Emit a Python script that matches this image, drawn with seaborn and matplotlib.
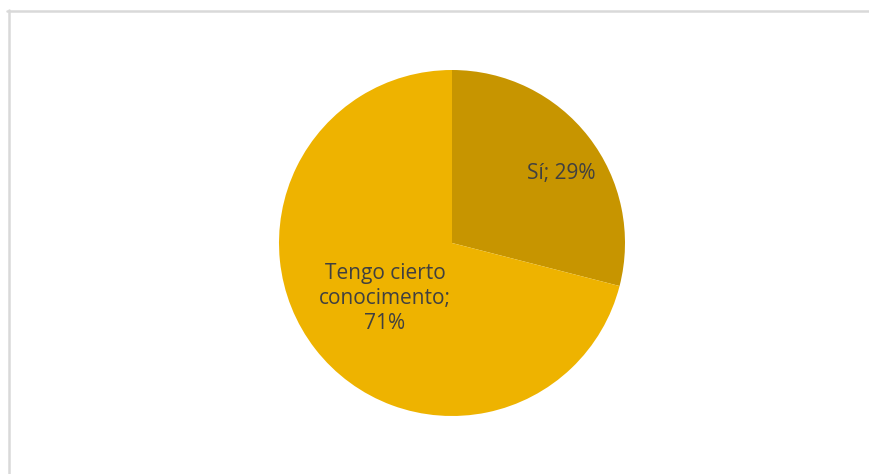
import numpy as np
import matplotlib
matplotlib.use("Agg")
import matplotlib.pyplot as plt
from matplotlib.lines import Line2D
import seaborn as sns

# Survey answers and their shares
categories = ["Sí", "Tengo cierto\nconocimento"]
shares = [29, 71]
colors = ["#C79500", "#EEB300"]

# Label placement: fraction of radius along the wedge's middle angle, plus a small pixel nudge
label_dist = [0.76, 0.49]
label_nudge = [(5, -11), (0, -4)]

sns.set_theme(style="white")
plt.rcParams["font.family"] = ["Open Sans", "DejaVu Sans"]

W, H = 869, 474
fig = plt.figure(figsize=(W / 100, H / 100), dpi=100)
ax = fig.add_axes([0, 0, 1, 1])

cx, cy, r = 452, 243, 173

ax.pie(shares, colors=colors, startangle=90, counterclock=False,
       radius=1.0, center=(0, 0), frame=True,
       wedgeprops=dict(linewidth=0))
ax.set_xlim(-cx / r, (W - cx) / r)
ax.set_ylim(-(H - cy) / r, cy / r)
ax.set_aspect("auto")
ax.axis("off")

# Labels placed along each wedge's middle angle
total = sum(shares)
start = 90.0
for cat, val, d, (nx, ny) in zip(categories, shares, label_dist, label_nudge):
    sweep = 360.0 * val / total
    mid = np.deg2rad(start - sweep / 2)
    start -= sweep
    text = f"{cat};\n{val}%" if "\n" in cat else f"{cat}; {val}%"
    ax.text(d * np.cos(mid) + nx / r, d * np.sin(mid) + ny / r, text,
            ha="center", va="center", fontsize=15, color="#404040",
            linespacing=1.25)

# Light chart-area frame
fig.add_artist(Line2D([8.5 / W, 8.5 / W], [0, (H - 9.5) / H],
                      transform=fig.transFigure, color="#D9D9D9", linewidth=1.8))
fig.add_artist(Line2D([7.5 / W, 1], [(H - 10.5) / H, (H - 10.5) / H],
                      transform=fig.transFigure, color="#D9D9D9", linewidth=1.8))

fig.savefig("out.png", dpi=100, facecolor="white")
